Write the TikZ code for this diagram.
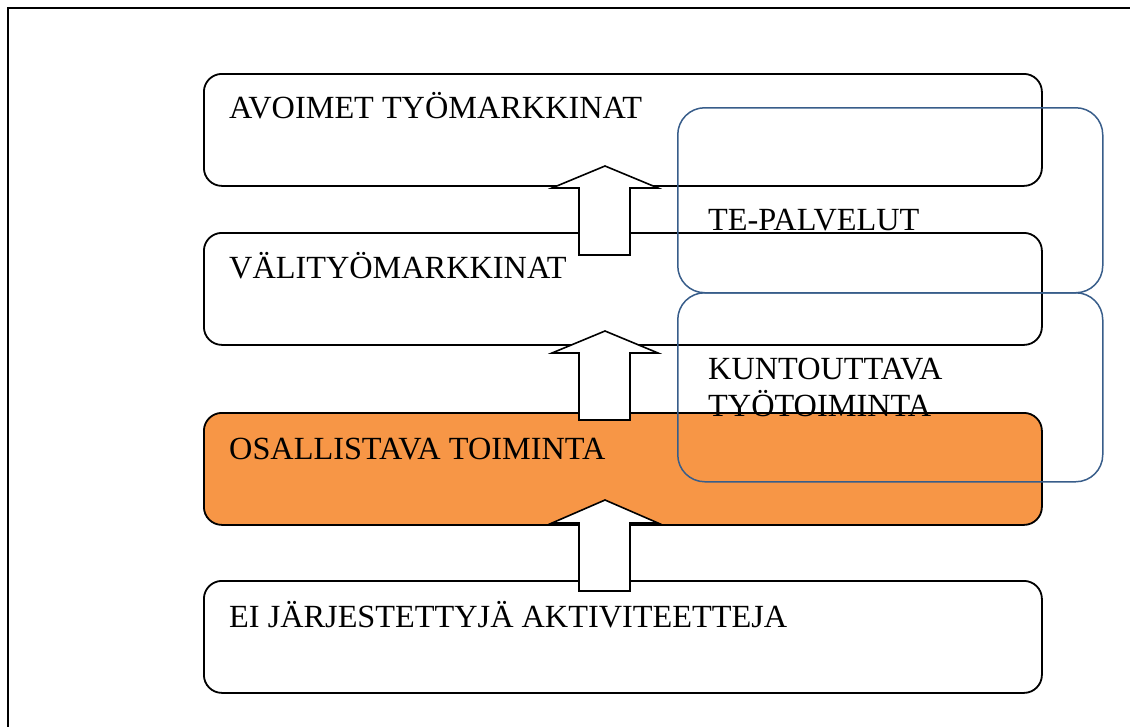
\documentclass[tikz,border=0pt]{standalone}
\usepackage{fontspec}
\setmainfont{Liberation Serif}
\definecolor{tuorange}{RGB}{247,150,70}
\definecolor{tublue}{RGB}{56,93,138}
\tikzset{
  stepbox/.style={draw=black,line width=1.8pt,rounded corners=18pt,
    minimum width=838pt,minimum height=112pt,inner sep=0pt,anchor=north west},
  servicebox/.style={draw=tublue,line width=1.5pt,rounded corners=27pt,
    minimum width=425pt,inner sep=0pt,anchor=north west},
  lbl/.style={font=\fontsize{32.3}{37}\selectfont,inner sep=0pt,anchor=base west,align=left},
  uparrow/.style={draw=black,fill=white,line width=1.6pt,line join=miter}
}
\begin{document}
\begin{tikzpicture}[x=1pt,y=-1pt]
        \useasboundingbox (0,0) rectangle (1130,726);
        % frame
        \draw[line width=1.5pt] (8,730) -- (8,8) -- (1134,8);
        % the four levels
        \node[stepbox] (avoimet) at (203,73) {};
        \node[stepbox] (vali) at (203,232) {};
        \node[stepbox,fill=tuorange] (osallistava) at (203,412) {};
        \node[stepbox] (eiakt) at (203,580) {};
        % block arrows upwards
        \draw[uparrow] (605,166) -- (658,188) -- (630,188) -- (630,255) -- (579,255) -- (579,188) -- (552,188) -- cycle;
        \draw[uparrow] (605,331) -- (658,353) -- (630,353) -- (630,420) -- (579,420) -- (579,353) -- (552,353) -- cycle;
        \draw[uparrow] (605,500) -- (658,523) -- (630,523) -- (630,591) -- (579,591) -- (579,523) -- (552,523) -- cycle;
        % services on the right
        \node[servicebox,minimum height=185pt] (tepalv) at (677,107) {};
        \node[servicebox,minimum height=189pt] (kuntout) at (677,292) {};
        % texts
        \node[lbl] (avoimetT) at (229,118) {AVOIMET TYÖMARKKINAT};
        \node[lbl] (valiT) at (229,278) {VÄLITYÖMARKKINAT};
        \node[lbl] (osallistavaT) at (229,459) {OSALLISTAVA TOIMINTA};
        \node[lbl] (eiaktT) at (229,627) {EI JÄRJESTETTYJÄ AKTIVITEETTEJA};
        \node[lbl] (tepalvT) at (708,230) {TE-PALVELUT};
        \node[lbl] (kuntoutT) at (708,416) {KUNTOUTTAVA\\TYÖTOIMINTA};
\end{tikzpicture}
\end{document}
